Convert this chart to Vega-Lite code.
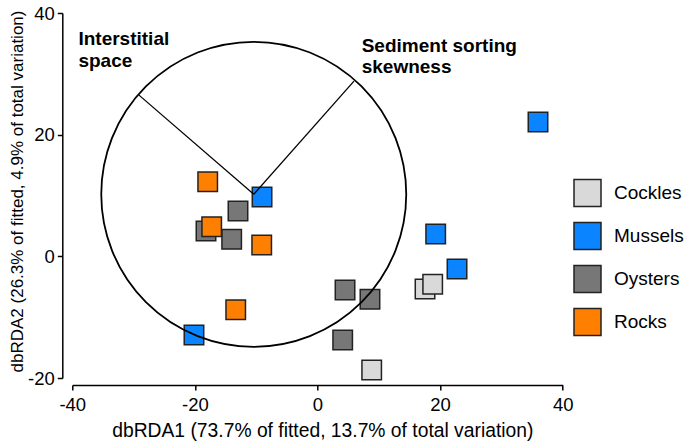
{
  "$schema": "https://vega.github.io/schema/vega-lite/v6.json",
  "width": 490.4,
  "height": 365,
  "autosize": {"type": "none"},
  "padding": {"left": 72.3, "top": 13, "right": 123.3, "bottom": 67},
  "background": "white",
  "config": {
    "view": {"stroke": null},
    "font": "Liberation Sans",
    "axis": {
      "grid": false,
      "domainColor": "#000000",
      "domainWidth": 1.5,
      "tickColor": "#000000",
      "tickWidth": 1.5,
      "tickSize": 5,
      "labelFlush": false,
      "labelFont": "Liberation Sans",
      "labelFontSize": 18.5,
      "labelColor": "#000000",
      "titleFont": "Liberation Sans",
      "titleFontWeight": "normal",
      "titleColor": "#000000"
    }
  },
  "datasets": {
    "pts": [
      {"habitat": "Cockles", "x": 17.54, "y": -5.38},
      {"habitat": "Cockles", "x": 18.79, "y": -4.6},
      {"habitat": "Cockles", "x": 8.84, "y": -18.69},
      {"habitat": "Mussels", "x": 35.97, "y": 22.08},
      {"habitat": "Mussels", "x": -9.05, "y": 9.75},
      {"habitat": "Mussels", "x": 19.28, "y": 3.67},
      {"habitat": "Mussels", "x": 22.76, "y": -2.09},
      {"habitat": "Mussels", "x": -20.15, "y": -12.94},
      {"habitat": "Oysters", "x": -12.97, "y": 7.45},
      {"habitat": "Oysters", "x": -18.19, "y": 4.16},
      {"habitat": "Oysters", "x": -14.0, "y": 2.79},
      {"habitat": "Oysters", "x": 4.49, "y": -5.54},
      {"habitat": "Oysters", "x": 8.56, "y": -7.07},
      {"habitat": "Oysters", "x": 4.11, "y": -13.76},
      {"habitat": "Rocks", "x": -17.91, "y": 12.26},
      {"habitat": "Rocks", "x": -17.26, "y": 4.87},
      {"habitat": "Rocks", "x": -9.1, "y": 1.86},
      {"habitat": "Rocks", "x": -13.34, "y": -8.78}
    ],
    "circle": [{"x": -10.4, "y": 10.2}],
    "vectors": [
      {"variable": "Interstitial space", "x": -10.4, "y": 10.2, "x2": -29.12, "y2": 26.5},
      {"variable": "Sediment sorting skewness", "x": -10.4, "y": 10.2, "x2": 5.95, "y2": 28.8}
    ],
    "labels": [
      {"label": "Interstitial", "x": -39.0, "y": 34.74},
      {"label": "space", "x": -39.0, "y": 31.17},
      {"label": "Sediment sorting", "x": 7.21, "y": 33.64},
      {"label": "skewness", "x": 7.21, "y": 30.13}
    ]
  },
  "layer": [
    {
      "data": {"name": "pts"},
      "mark": {"type": "point", "shape": "square", "filled": true, "opacity": 1, "size": 380, "stroke": "#222222", "strokeWidth": 1.5},
      "encoding": {
        "x": {
          "field": "x", "type": "quantitative",
          "scale": {"domain": [-40, 40], "nice": false, "zero": false},
          "axis": {"values": [-40, -20, 0, 20, 40], "labelExpr": "'' + datum.value", "offset": 7, "labelPadding": 5, "title": "dbRDA1 (73.7% of fitted, 13.7% of total variation)", "titleFontSize": 19.3, "titleBaseline": "alphabetic", "titleY": 51, "titleX": 250, "titleAnchor": null}
        },
        "y": {
          "field": "y", "type": "quantitative",
          "scale": {"domain": [-20, 40], "nice": false, "zero": false},
          "axis": {"values": [-20, 0, 20, 40], "labelExpr": "'' + datum.value", "offset": 10, "labelPadding": 3, "title": "dbRDA2 (26.3% of fitted, 4.9% of total variation)", "titleFontSize": 17, "titleBaseline": "alphabetic", "titleX": -39.6, "titleY": 178, "titleAlign": "center"}
        },
        "color": {
          "field": "habitat", "type": "nominal",
          "scale": {"domain": ["Cockles", "Mussels", "Oysters", "Rocks"], "range": ["#d9d9d9", "#0a84ff", "#777777", "#ff8000"]},
          "legend": {
            "title": null,
            "orient": "none",
            "legendX": 500.7,
            "legendY": 165.5,
            "padding": 0,
            "symbolType": "square",
            "symbolSize": 729,
            "symbolStrokeColor": "#222222",
            "symbolStrokeWidth": 1.5,
            "symbolOpacity": 1,
            "symbolFillColor": null,
            "labelFont": "Liberation Sans",
            "labelFontSize": 19,
            "labelColor": "#000000",
            "labelOffset": 12,
            "rowPadding": 10
          }
        }
      }
    },
    {
      "data": {"name": "circle"},
      "mark": {"type": "point", "shape": "circle", "filled": false, "size": 93025, "stroke": "#000000", "strokeWidth": 1.8, "opacity": 1},
      "encoding": {
        "x": {"field": "x", "type": "quantitative"},
        "y": {"field": "y", "type": "quantitative"}
      }
    },
    {
      "data": {"name": "vectors"},
      "mark": {"type": "rule", "color": "#000000", "strokeWidth": 1.3},
      "encoding": {
        "x": {"field": "x", "type": "quantitative"},
        "y": {"field": "y", "type": "quantitative"},
        "x2": {"field": "x2"},
        "y2": {"field": "y2"}
      }
    },
    {
      "data": {"name": "labels"},
      "mark": {"type": "text", "font": "Liberation Sans", "fontWeight": "bold", "fontSize": 19, "align": "left", "baseline": "alphabetic", "color": "#000000"},
      "encoding": {
        "x": {"field": "x", "type": "quantitative"},
        "y": {"field": "y", "type": "quantitative"},
        "text": {"field": "label"}
      }
    }
  ]
}
